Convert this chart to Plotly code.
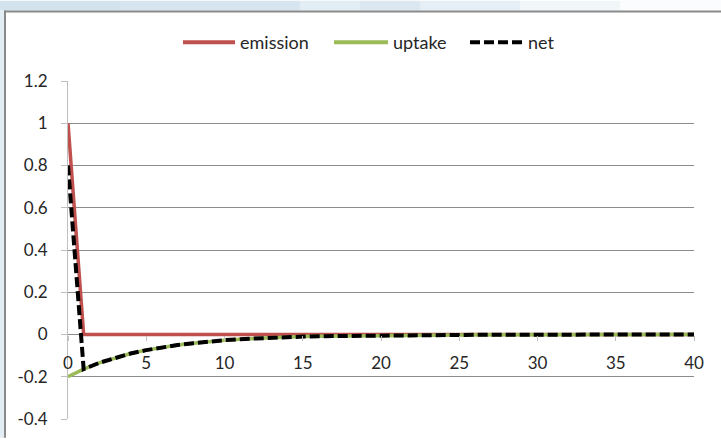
import plotly.graph_objects as go

# Years after a single pulse emission
years = list(range(0, 41))

# Pulse emission in year 0
emission = [1.0] + [0.0] * 40

# Uptake by the sink, fading back to zero
uptake = [
    -0.200, -0.164, -0.134, -0.110, -0.090, -0.074, -0.061, -0.050, -0.041, -0.033,
    -0.027, -0.022, -0.018, -0.015, -0.012, -0.010, -0.008, -0.007, -0.006, -0.005,
    -0.004, -0.003, -0.003, -0.002, -0.002, -0.002, -0.001, -0.001, -0.001, -0.001,
    -0.001, -0.001, -0.001, -0.001, -0.001, -0.001, -0.001, -0.001, -0.001, -0.001,
    0.000,
]

# Net flux = emission + uptake
net = [e + u for e, u in zip(emission, uptake)]

series_names = ["emission", "uptake", "net"]
series_colors = ["#c0504d", "#9bbb59", "#000000"]

y_ticks = [-0.4, -0.2, 0, 0.2, 0.4, 0.6, 0.8, 1, 1.2]
y_tick_text = ["-0.4", "-0.2", "0", "0.2", "0.4", "0.6", "0.8", "1", "1.2"]
x_ticks = [0, 5, 10, 15, 20, 25, 30, 35, 40]

FONT = "Lato, 'Open Sans', sans-serif"
TEXT = "#262626"
W, H = 721, 441
L, R, T, B = 68, 27, 81, 19
PW, PH = W - L - R, H - T - B

NET_DASH = "10px,4px"


def px(p):
    return (p - L) / PW


def py(q):
    return (H - B - q) / PH


fig = go.Figure()
fig.add_trace(go.Scatter(x=years, y=emission, mode="lines", name=series_names[0],
                         line=dict(color=series_colors[0], width=3.5)))
fig.add_trace(go.Scatter(x=years, y=uptake, mode="lines", name=series_names[1],
                         line=dict(color=series_colors[1], width=3.5)))
fig.add_trace(go.Scatter(x=years, y=net, mode="lines", name=series_names[2],
                         line=dict(color=series_colors[2], width=4, dash=NET_DASH)))

shapes = []
annotations = []

# light blue strip along the top, fading to white on the right
strip = [(0, 120, "#d3e3ee"), (120, 300, "#d6e5ef"), (300, 360, "#e3edf4"),
         (360, 420, "#dbe8f1"), (420, 520, "#e6eff5"), (520, 620, "#f1f6f9"),
         (620, 721, "#fafcfd")]
for a, b, c in strip:
    shapes.append(dict(type="rect", xref="paper", yref="paper",
                       x0=px(a), x1=px(b), y0=py(10), y1=py(0),
                       fillcolor=c, line=dict(width=0), layer="below"))
# light blue strip along the left edge
shapes.append(dict(type="rect", xref="paper", yref="paper",
                   x0=px(0), x1=px(4), y0=py(441), y1=py(10),
                   fillcolor="#e2edf4", line=dict(width=0), layer="below"))
# chart frame
shapes.append(dict(type="line", xref="paper", yref="paper",
                   x0=px(4), x1=px(721), y0=py(11), y1=py(11),
                   line=dict(color="#8a8a8a", width=2)))
shapes.append(dict(type="line", xref="paper", yref="paper",
                   x0=px(5), x1=px(5), y0=py(10), y1=py(441),
                   line=dict(color="#8a8a8a", width=2)))

# legend across the top: sample line followed by the series name
legend_items = [(183, 235, 239), (334, 388, 392), (470, 525, 527)]
legend_y = 42
for (l0, l1, tx), name, color in zip(legend_items, series_names, series_colors):
    is_net = name == "net"
    shapes.append(dict(type="line", xref="paper", yref="paper",
                       x0=px(l0), x1=px(l1), y0=py(legend_y), y1=py(legend_y),
                       line=dict(color=color, width=4,
                                 dash="10px,4px" if is_net else "solid")))
    annotations.append(dict(text=name, xref="paper", yref="paper",
                            x=px(tx), y=py(legend_y), xanchor="left",
                            yanchor="middle", showarrow=False, borderpad=0,
                            font=dict(family=FONT, size=18, color=TEXT)))

fig.update_layout(
    width=W, height=H,
    margin=dict(l=L, r=R, t=T, b=B, pad=0),
    paper_bgcolor="white",
    plot_bgcolor="rgba(0,0,0,0)",
    font=dict(family=FONT, size=17, color=TEXT),
    showlegend=False,
    shapes=shapes,
    annotations=annotations,
    xaxis=dict(range=[0, 40], tickvals=x_ticks, ticktext=[str(v) for v in x_ticks],
               anchor="free", position=0.25, showgrid=False, zeroline=False,
               showline=False, ticks="outside", ticklen=5, tickcolor="#bfbfbf",
               ticklabelstandoff=8,
               tickfont=dict(family=FONT, size=17, color=TEXT)),
    yaxis=dict(range=[-0.4, 1.2], tickvals=y_ticks, ticktext=y_tick_text,
               showgrid=True, gridcolor="#8c8c8c", gridwidth=1,
               zeroline=True, zerolinecolor="#8c8c8c", zerolinewidth=1,
               showline=True, linecolor="#bfbfbf", linewidth=1,
               ticks="outside", ticklen=6, tickcolor="#bfbfbf",
               ticklabelstandoff=10,
               tickfont=dict(family=FONT, size=17, color=TEXT)),
)

fig.write_html("out.html")
